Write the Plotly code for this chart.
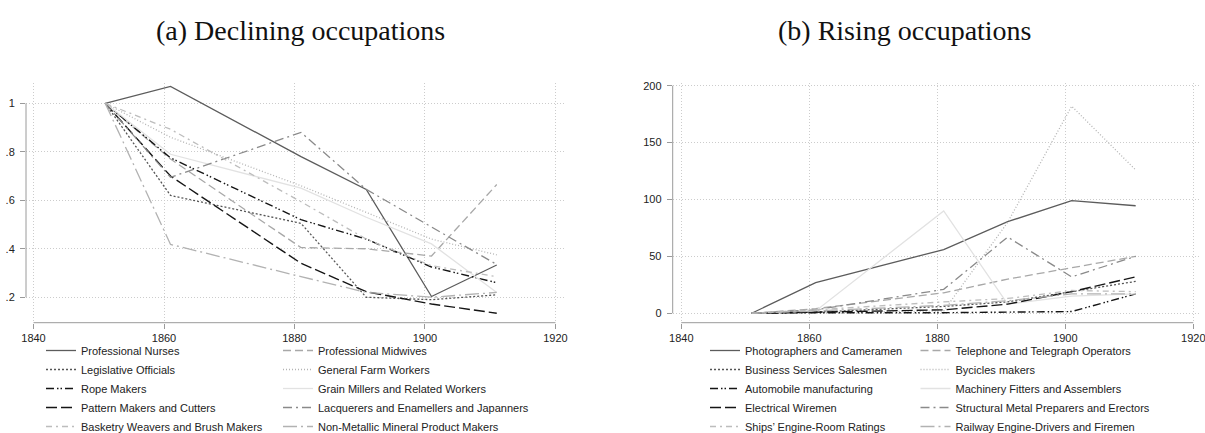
import plotly.graph_objects as go

W, H = 1205, 433

years = [1851, 1861, 1881, 1891, 1901, 1911]

# Panel (a): declining occupations (index relative to 1851)
declining_names = [
    "Professional Nurses", "Professional Midwives",
    "Legislative Officials", "General Farm Workers",
    "Rope Makers", "Grain Millers and Related Workers",
    "Pattern Makers and Cutters", "Lacquerers and Enamellers and Japanners",
    "Basketry Weavers and Brush Makers", "Non-Metallic Mineral Product Makers",
]
declining_values = [
    [1, 1.07, 0.78, 0.645, 0.203, 0.333],
    [1, 0.77, 0.405, 0.40, 0.37, 0.665],
    [1, 0.62, 0.505, 0.20, 0.19, 0.21],
    [1, 0.86, 0.66, 0.55, 0.44, 0.375],
    [1, 0.775, 0.52, 0.44, 0.325, 0.26],
    [1, 0.79, 0.65, 0.53, 0.42, 0.22],
    [1, 0.70, 0.34, 0.223, 0.172, 0.134],
    [1, 0.695, 0.88, 0.645, 0.49, 0.335],
    [1, 0.893, 0.594, 0.44, 0.33, 0.285],
    [1, 0.418, 0.285, 0.22, 0.20, 0.22],
]

# Panel (b): rising occupations (index relative to 1851)
rising_names = [
    "Photographers and Cameramen", "Telephone and Telegraph Operators",
    "Business Services Salesmen", "Bycicles makers",
    "Automobile manufacturing", "Machinery Fitters and Assemblers",
    "Electrical Wiremen", "Structural Metal Preparers and Erectors",
    "Ships\u2019 Engine-Room Ratings", "Railway Engine-Drivers and Firemen",
]
rising_values = [
    [0, 27, 56, 80.5, 99, 94.5],
    [0, 4, 18, 30, 40, 50],
    [0, 1, 6, 10, 19, 28],
    [0, 0.5, 2, 80, 182, 126],
    [0, 0.5, 0.5, 1, 1.5, 17],
    [0, 2, 90, 8, 15, 17],
    [0, 1, 3, 8, 19, 32],
    [0, 3, 21, 67, 32, 50],
    [0, 3, 10, 13, 20, 19],
    [0, 2, 7, 11, 17, 17],
]

left_yticks = [0.2, 0.4, 0.6, 0.8, 1]
left_yticklabels = [".2", ".4", ".6", ".8", "1"]
right_yticks = [0, 50, 100, 150, 200]
right_yticklabels = ["0", "50", "100", "150", "200"]
xticks = [1840, 1860, 1880, 1900, 1920]

# style per series index (Stata monochrome-like)
styles = [
    dict(color="#5c5c5c", dash="solid", width=1.3),
    dict(color="#a8a8a8", dash="8px,4px", width=1.3),
    dict(color="#555555", dash="2px,2px", width=1.3),
    dict(color="#b4b4b4", dash="1px,2px", width=1.3),
    dict(color="#151515", dash="8px,3px,1.5px,2px,1.5px,3px", width=1.4),
    dict(color="#e2e2e2", dash="solid", width=1.3),
    dict(color="#151515", dash="11px,4px", width=1.4),
    dict(color="#8a8a8a", dash="9px,4px,2px,4px", width=1.3),
    dict(color="#bdbdbd", dash="6px,4px,2px,4px", width=1.3),
    dict(color="#b2b2b2", dash="14px,4px,2px,4px", width=1.3),
]

fig = go.Figure()

legends_left = ["legend", "legend2"]
legends_right = ["legend3", "legend4"]

for i, (name, vals) in enumerate(zip(declining_names, declining_values)):
    fig.add_trace(go.Scatter(
        x=years, y=vals, name=name, mode="lines",
        line=styles[i], xaxis="x", yaxis="y",
        legend=legends_left[i % 2], showlegend=True,
    ))
for i, (name, vals) in enumerate(zip(rising_names, rising_values)):
    fig.add_trace(go.Scatter(
        x=years, y=vals, name=name, mode="lines",
        line=styles[i], xaxis="x2", yaxis="y2",
        legend=legends_right[i % 2], showlegend=True,
    ))

def px_x(p):
    return p / W

def px_y(p):
    return 1 - p / H

top_px, bot_px = 83, 322.7
ydom = [px_y(bot_px), px_y(top_px)]

grid = dict(showgrid=True, gridcolor="#cccccc", griddash="1px,2px", gridwidth=1)
tickstyle = dict(ticks="outside", ticklen=5, tickcolor="#9a9a9a", tickwidth=1,
                 tickfont=dict(family="Liberation Sans, Arial", size=11, color="#222"),
                 showline=False, zeroline=False, ticklabeloverflow="allow")

fig.update_layout(
    xaxis=dict(domain=[px_x(26), px_x(565)], range=[1838.85, 1921.46],
               tickvals=xticks, ticktext=[str(t) for t in xticks], anchor="y",
               **grid, **tickstyle),
    yaxis=dict(domain=ydom, range=[0.095, 1.084], tickvals=left_yticks,
               ticktext=left_yticklabels, anchor="x", ticklabelstandoff=3,
               **grid, **tickstyle),
    xaxis2=dict(domain=[px_x(672.7), px_x(1200)], range=[1838.66, 1921.05],
                tickvals=xticks, ticktext=[str(t) for t in xticks], anchor="y2",
                **grid, **tickstyle),
    yaxis2=dict(domain=ydom, range=[-8.3, 202.4], tickvals=right_yticks,
                ticktext=right_yticklabels, anchor="x2", ticklabelstandoff=3,
                **grid, **tickstyle),
)

# Stata-style axis lines spanning the tick range only
axis_line = dict(color="#9a9a9a", width=1)
fig.add_shape(type="line", xref="x", yref="y domain", x0=1840, x1=1920, y0=0, y1=0, line=axis_line)
fig.add_shape(type="line", xref="x domain", yref="y", x0=0, x1=0, y0=0.2, y1=1, line=axis_line)
fig.add_shape(type="line", xref="x2", yref="y2 domain", x0=1840, x1=1920, y0=0, y1=0, line=axis_line)
fig.add_shape(type="line", xref="x2 domain", yref="y2", x0=0, x1=0, y0=0, y1=200, line=axis_line)

legfont = dict(family="Liberation Sans, Arial", size=11, color="#222")
leg_common = dict(orientation="v", xanchor="left", yanchor="top", bgcolor="rgba(0,0,0,0)",
                  borderwidth=0, font=legfont, itemclick=False, itemdoubleclick=False,
                  tracegroupgap=0)
leg_top = 336
fig.update_layout(
    legend=dict(x=px_x(41), y=px_y(leg_top), **leg_common),
    legend2=dict(x=px_x(278), y=px_y(leg_top), **leg_common),
    legend3=dict(x=px_x(705), y=px_y(leg_top), **leg_common),
    legend4=dict(x=px_x(915.5), y=px_y(leg_top), **leg_common),
)

title_font = dict(family="Liberation Serif, Times New Roman, serif", size=28, color="#111")
fig.add_annotation(text="(a) Declining occupations", x=px_x(300), y=px_y(30),
                   xref="paper", yref="paper", showarrow=False, font=title_font,
                   xanchor="center", yanchor="middle")
fig.add_annotation(text="(b) Rising occupations", x=px_x(905), y=px_y(30),
                   xref="paper", yref="paper", showarrow=False, font=title_font,
                   xanchor="center", yanchor="middle")

fig.update_layout(
    width=W, height=H,
    margin=dict(l=0, r=0, t=0, b=0, autoexpand=False),
    paper_bgcolor="white", plot_bgcolor="white",
)

fig.write_html("out.html")
